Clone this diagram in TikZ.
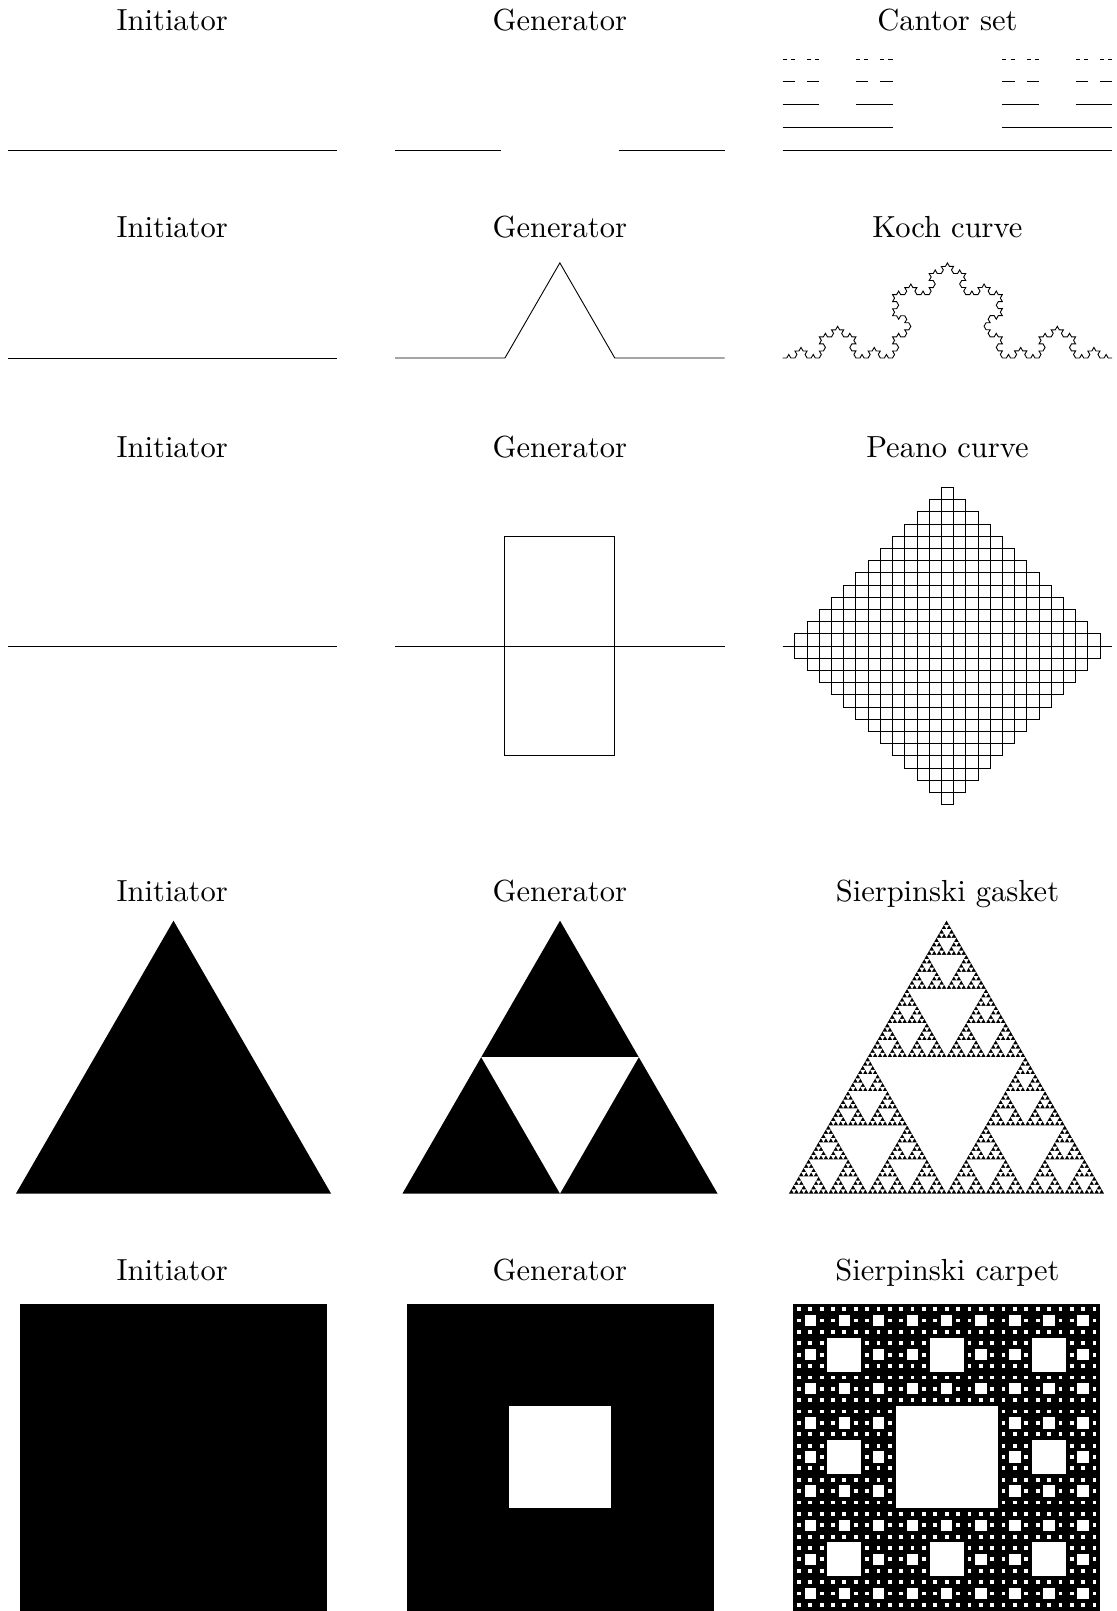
\documentclass[tikz,border=0pt]{standalone}
\usepackage{graphicx}
\usetikzlibrary{decorations}

\pgfdeclaredecoration{kochtri}{draw}{%
  \state{draw}[width=\pgfdecoratedinputsegmentremainingdistance]{%
    \pgfpathlineto{\pgfpoint{0.333333\pgfdecoratedinputsegmentremainingdistance}{0pt}}%
    \pgfpathlineto{\pgfpoint{0.5\pgfdecoratedinputsegmentremainingdistance}{0.288675\pgfdecoratedinputsegmentremainingdistance}}%
    \pgfpathlineto{\pgfpoint{0.666667\pgfdecoratedinputsegmentremainingdistance}{0pt}}%
    \pgfpathlineto{\pgfpoint{\pgfdecoratedinputsegmentremainingdistance}{0pt}}%
  }%
}
\pgfdeclaredecoration{peanodeco}{draw}{%
  \state{draw}[width=\pgfdecoratedinputsegmentremainingdistance]{%
    \pgfpathlineto{\pgfpoint{0.333333\pgfdecoratedinputsegmentremainingdistance}{0pt}}%
    \pgfpathlineto{\pgfpoint{0.333333\pgfdecoratedinputsegmentremainingdistance}{0.333333\pgfdecoratedinputsegmentremainingdistance}}%
    \pgfpathlineto{\pgfpoint{0.666667\pgfdecoratedinputsegmentremainingdistance}{0.333333\pgfdecoratedinputsegmentremainingdistance}}%
    \pgfpathlineto{\pgfpoint{0.666667\pgfdecoratedinputsegmentremainingdistance}{0pt}}%
    \pgfpathlineto{\pgfpoint{0.333333\pgfdecoratedinputsegmentremainingdistance}{0pt}}%
    \pgfpathlineto{\pgfpoint{0.333333\pgfdecoratedinputsegmentremainingdistance}{-0.333333\pgfdecoratedinputsegmentremainingdistance}}%
    \pgfpathlineto{\pgfpoint{0.666667\pgfdecoratedinputsegmentremainingdistance}{-0.333333\pgfdecoratedinputsegmentremainingdistance}}%
    \pgfpathlineto{\pgfpoint{0.666667\pgfdecoratedinputsegmentremainingdistance}{0pt}}%
    \pgfpathlineto{\pgfpoint{\pgfdecoratedinputsegmentremainingdistance}{0pt}}%
  }%
}

\newcommand\ttl[1]{\scalebox{3.05}{\fontsize{10}{12}\selectfont #1}}

% Sierpinski gasket: #1 centre x, #2 base y, #3 side, #4 levels
\newcommand\mygasket[4]{%
  \fill[black] ({#1-#3/2},#2) -- ({#1+#3/2},#2) -- (#1,{#2-0.8660254*#3}) -- cycle;
  \foreach \sgk in {1,...,#4}{%
    \pgfmathsetmacro\sgT{#3/round(2^(\sgk-1))}%
    \pgfmathsetmacro\sgH{0.8660254*\sgT}%
    \pgfmathtruncatemacro\sgM{round(2^(\sgk-1))-1}%
    \foreach \sgr in {0,...,\sgM}{%
      \foreach \sgc in {0,...,\sgr}{%
        \pgfmathsetmacro\sgX{#1-\sgr*\sgT/2+\sgc*\sgT}%
        \pgfmathsetmacro\sgY{#2-0.8660254*#3+\sgr*\sgH}%
        \fill[white] ({\sgX-\sgT/4},{\sgY+\sgH/2}) -- ({\sgX+\sgT/4},{\sgY+\sgH/2}) -- (\sgX,{\sgY+\sgH}) -- cycle;
      }%
    }%
  }%
}

% Sierpinski carpet: #1 left x, #2 top y, #3 side, #4 levels
\newcommand\mycarpet[4]{%
  \fill[black] (#1,#2) rectangle ++(#3,#3);
  \foreach \sck in {1,...,#4}{%
    \pgfmathtruncatemacro\scN{round(3^(\sck-1))-1}%
    \pgfmathsetmacro\scC{#3/round(3^(\sck-1))}%
    \foreach \sci in {0,...,\scN}{%
      \foreach \scj in {0,...,\scN}{%
        \fill[white] ({#1+\sci*\scC+\scC/3},{#2+\scj*\scC+\scC/3}) rectangle ++({\scC/3},{\scC/3});
      }%
    }%
  }%
}

\begin{document}
\begin{tikzpicture}[x=1pt,y=-1pt,
  fr/.style={line width=0.9pt, line join=miter},
  title/.style={anchor=base, inner sep=0pt}]
\useasboundingbox (0,0) rectangle (1116,1611);
\fill[white] (0,0) rectangle (1116,1611);

% ---------- titles ----------
\node[title] (t11) at (172.25,30.7) {\ttl{Initiator}};
\node[title] (t12) at (559.85,30.7) {\ttl{Generator}};
\node[title] (t13) at (947.45,30.7) {\ttl{Cantor set}};
\node[title] (t21) at (172.25,237.8) {\ttl{Initiator}};
\node[title] (t22) at (559.85,237.8) {\ttl{Generator}};
\node[title] (t23) at (947.45,237.8) {\ttl{Koch curve}};
\node[title] (t31) at (172.25,457) {\ttl{Initiator}};
\node[title] (t32) at (559.85,457) {\ttl{Generator}};
\node[title] (t33) at (947.45,457) {\ttl{Peano curve}};
\node[title] (t41) at (172.25,901) {\ttl{Initiator}};
\node[title] (t42) at (559.85,901) {\ttl{Generator}};
\node[title] (t43) at (947.45,901) {\ttl{Sierpinski gasket}};
\node[title] (t51) at (172.25,1280) {\ttl{Initiator}};
\node[title] (t52) at (559.85,1280) {\ttl{Generator}};
\node[title] (t53) at (947.45,1280) {\ttl{Sierpinski carpet}};

% ---------- row 1: Cantor ----------
\draw[fr] (7.5,150) -- ++(329.5,0);
\draw[fr] (395.1,150) -- (500.5,150);
\draw[fr] (618.5,150) -- (724.6,150);
\draw[fr] (782.7,150) -- ++(329.5,0);
\foreach \a in {0,2}
  \draw[fr] ({782.7+\a*329.5/3},127.25) -- ++({329.5/3},0);
\foreach \a in {0,2} \foreach \b in {0,2}
  \draw[fr] ({782.7+\a*329.5/3+\b*329.5/9},104.5) -- ++({329.5/9},0);
\foreach \a in {0,2} \foreach \b in {0,2} \foreach \c in {0,2}
  \draw[fr] ({782.7+\a*329.5/3+\b*329.5/9+\c*329.5/27},81.75) -- ++({329.5/27},0);
\foreach \a in {0,2} \foreach \b in {0,2} \foreach \c in {0,2} \foreach \d in {0,2}
  \draw[fr] ({782.7+\a*329.5/3+\b*329.5/9+\c*329.5/27+\d*329.5/81},59) -- ++({329.5/81},0);

% ---------- row 2: Koch ----------
\draw[fr] (7.5,358) -- ++(329.5,0);
\draw[fr, decoration=kochtri] decorate{(395.1,358) -- (724.6,358)};
\draw[fr, decoration=kochtri] decorate{decorate{decorate{decorate{(782.7,358) -- (1112.2,358)}}}};

% ---------- row 3: Peano ----------
\draw[fr] (7.5,646) -- ++(329.5,0);
\draw[fr, decoration=peanodeco] decorate{(395.1,646) -- (724.6,646)};
\draw[fr, decoration=peanodeco] decorate{decorate{decorate{(782.7,646) -- (1112.2,646)}}};

% ---------- row 4: Sierpinski gasket ----------
\fill[black] ({173.5-157.5},1193.5) -- ({173.5+157.5},1193.5) -- (173.5,{1193.5-0.8660254*315}) -- cycle;
\mygasket{560}{1193.5}{315}{1}
\mygasket{946.5}{1193.5}{315}{6}

% ---------- row 5: Sierpinski carpet ----------
\fill[black] (19.6,1303.5) rectangle ++(307,307);
\mycarpet{406.5}{1303.5}{307}{1}
\mycarpet{793.2}{1303.5}{307}{4}
\end{tikzpicture}
\end{document}
